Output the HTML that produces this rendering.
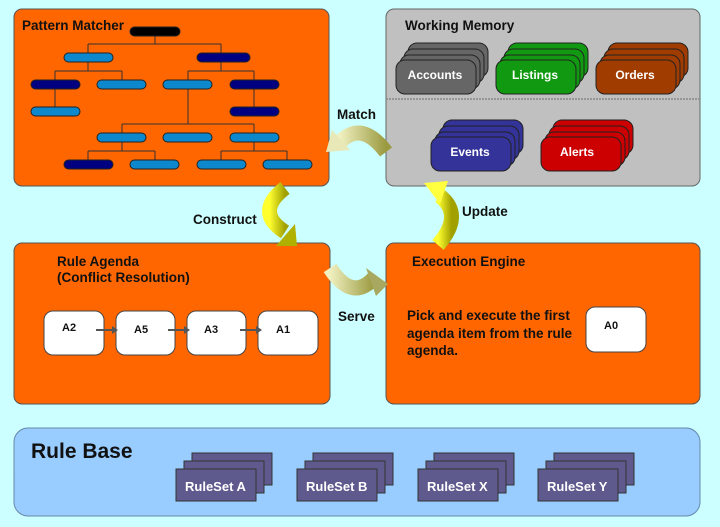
<!DOCTYPE html>
<html><head><style>
body{margin:0;width:720px;height:527px;background:#ccffff;overflow:hidden;font-family:"Liberation Sans",sans-serif;}
svg{position:absolute;left:0;top:0}
</style></head><body>
<svg width="720" height="527" viewBox="0 0 720 527">
<defs>
<linearGradient id="g1" x1="0" y1="0" x2="1" y2="0"><stop offset="0" stop-color="#f0f0c0"/><stop offset="1" stop-color="#9a9a40"/></linearGradient>
<linearGradient id="g2" x1="0" y1="0" x2="1" y2="0"><stop offset="0" stop-color="#ffff30"/><stop offset="1" stop-color="#a0a000"/></linearGradient>
</defs>
<rect x="0" y="0" width="720" height="527" fill="#ccffff"/>
<rect x="14" y="9" width="315" height="177" rx="8" fill="#ff6600" stroke="#555" stroke-width="1"/>
<rect x="386" y="9" width="314" height="177" rx="8" fill="#c0c0c0" stroke="#666" stroke-width="1"/>
<line x1="386" y1="99" x2="700" y2="99" stroke="#888" stroke-width="1.5" stroke-dasharray="2,1"/>
<rect x="14" y="243" width="316" height="161" rx="8" fill="#ff6600" stroke="#555"/>
<rect x="386" y="243" width="314" height="161" rx="8" fill="#ff6600" stroke="#555"/>
<rect x="14" y="428" width="686" height="88" rx="14" fill="#99ccff" stroke="#6688aa"/>
<g stroke="#333" stroke-width="1" fill="none">
<path d="M155 35V44M88 44H221M88 44V53M221 44V53"/>
<path d="M88 62V71M55 71H122M55 71V80M122 71V80"/>
<path d="M221 62V71M188 71H254M188 71V80M254 71V80"/>
<path d="M55 89V107M254 89V107M188 89V124M122 124H254M122 124V133M254 124V133"/>
<path d="M122 142V151M88 151H155M88 151V160M155 151V160M254 142V151M221 151H287M221 151V160M287 151V160"/>
</g>
<g stroke="#222" stroke-width="1">
<rect x="130" y="27" width="50" height="9" rx="4.5" fill="#000"/>
<rect x="64" y="53" width="49" height="9" rx="4.5" fill="#0e88cc"/>
<rect x="197" y="53" width="53" height="9" rx="4.5" fill="#000080"/>
<rect x="31" y="80" width="49" height="9" rx="4.5" fill="#000080"/>
<rect x="97" y="80" width="49" height="9" rx="4.5" fill="#0e88cc"/>
<rect x="163" y="80" width="49" height="9" rx="4.5" fill="#0e88cc"/>
<rect x="230" y="80" width="49" height="9" rx="4.5" fill="#000080"/>
<rect x="31" y="107" width="49" height="9" rx="4.5" fill="#0e88cc"/>
<rect x="230" y="107" width="49" height="9" rx="4.5" fill="#000080"/>
<rect x="97" y="133" width="49" height="9" rx="4.5" fill="#0e88cc"/>
<rect x="163" y="133" width="49" height="9" rx="4.5" fill="#0e88cc"/>
<rect x="230" y="133" width="49" height="9" rx="4.5" fill="#0e88cc"/>
<rect x="64" y="160" width="49" height="9" rx="4.5" fill="#000080"/>
<rect x="130" y="160" width="49" height="9" rx="4.5" fill="#0e88cc"/>
<rect x="197" y="160" width="49" height="9" rx="4.5" fill="#0e88cc"/>
<rect x="263" y="160" width="49" height="9" rx="4.5" fill="#0e88cc"/>
</g>
<g stroke="#222" stroke-width="1">
<g fill="#666"><rect x="408" y="43" width="80" height="34" rx="9"/><rect x="404" y="49" width="80" height="34" rx="9"/><rect x="400" y="55" width="80" height="34" rx="9"/><rect x="396" y="60" width="80" height="34" rx="9"/></g>
<g fill="#119911"><rect x="508" y="43" width="80" height="34" rx="9"/><rect x="504" y="49" width="80" height="34" rx="9"/><rect x="500" y="55" width="80" height="34" rx="9"/><rect x="496" y="60" width="80" height="34" rx="9"/></g>
<g fill="#a03c00"><rect x="608" y="43" width="80" height="34" rx="9"/><rect x="604" y="49" width="80" height="34" rx="9"/><rect x="600" y="55" width="80" height="34" rx="9"/><rect x="596" y="60" width="80" height="34" rx="9"/></g>
<g fill="#333399"><rect x="443" y="120" width="80" height="34" rx="9"/><rect x="439" y="126" width="80" height="34" rx="9"/><rect x="435" y="132" width="80" height="34" rx="9"/><rect x="431" y="137" width="80" height="34" rx="9"/></g>
<g fill="#cc0000"><rect x="553" y="120" width="80" height="34" rx="9"/><rect x="549" y="126" width="80" height="34" rx="9"/><rect x="545" y="132" width="80" height="34" rx="9"/><rect x="541" y="137" width="80" height="34" rx="9"/></g>
</g>
<g fill="#fff" font-size="12" font-weight="bold" text-anchor="middle">
<text x="435" y="79">Accounts</text><text x="535" y="79">Listings</text><text x="635" y="79">Orders</text>
<text x="470" y="156">Events</text><text x="577" y="156">Alerts</text>
</g>
<g fill="#fff" stroke="#444">
<rect x="44" y="311" width="60" height="44" rx="9"/><rect x="116" y="311" width="59" height="44" rx="9"/>
<rect x="187" y="311" width="59" height="44" rx="9"/><rect x="258" y="311" width="60" height="44" rx="9"/>
<rect x="586" y="307" width="60" height="45" rx="9"/>
</g>
<g stroke="#555" stroke-width="2"><line x1="96" y1="330" x2="113" y2="330"/><line x1="168" y1="330" x2="184" y2="330"/><line x1="240" y1="330" x2="256" y2="330"/></g>
<g fill="#555"><path d="M118 330l-6-4v8z"/><path d="M190 330l-6-4v8z"/><path d="M262 330l-6-4v8z"/></g>
<g font-size="11" font-weight="bold" fill="#111">
<text x="62" y="331">A2</text><text x="134" y="333">A5</text><text x="204" y="333">A3</text><text x="276" y="333">A1</text><text x="604" y="329">A0</text>
</g>
<g fill="#5f5a8e" stroke="#333">
<rect x="192" y="453" width="80" height="32"/><rect x="184" y="461" width="80" height="32"/><rect x="176" y="469" width="80" height="32"/>
<rect x="313" y="453" width="80" height="32"/><rect x="305" y="461" width="80" height="32"/><rect x="297" y="469" width="80" height="32"/>
<rect x="434" y="453" width="80" height="32"/><rect x="426" y="461" width="80" height="32"/><rect x="418" y="469" width="80" height="32"/>
<rect x="554" y="453" width="80" height="32"/><rect x="546" y="461" width="80" height="32"/><rect x="538" y="469" width="80" height="32"/>
</g>
<g fill="#fff" font-size="13" font-weight="bold">
<text x="185" y="491">RuleSet A</text><text x="306" y="491">RuleSet B</text><text x="427" y="491">RuleSet X</text><text x="547" y="491">RuleSet Y</text>
</g>
<path d="M386 152 Q362 120 340 142" stroke="url(#g1)" stroke-width="15" fill="none"/>
<path d="M326 152 L332 130 L350 150 Z" fill="#e8e8b8"/>
<path d="M285 188 Q254 212 285 232" stroke="url(#g2)" stroke-width="15" fill="none"/>
<path d="M276 246 L297 246 L295 224 Z" fill="#b0b000"/>
<path d="M438 245 Q464 215 440 196" stroke="url(#g2)" stroke-width="15" fill="none"/>
<path d="M424 183 L448 181 L440 204 Z" fill="#ffff40"/>
<path d="M330 268 Q352 302 374 278" stroke="url(#g1)" stroke-width="15" fill="none"/>
<path d="M388 284 L366 268 L376 296 Z" fill="#a8a860"/>
<g font-size="13.5" font-weight="bold" fill="#111">
<text x="22" y="30">Pattern Matcher</text>
<text x="405" y="30">Working Memory</text>
<text x="337" y="119">Match</text>
<text x="193" y="224">Construct</text>
<text x="462" y="216">Update</text>
<text x="338" y="321">Serve</text>
<text x="57" y="266">Rule Agenda</text>
<text x="57" y="282">(Conflict Resolution)</text>
<text x="412" y="266">Execution Engine</text>
<text x="407" y="320">Pick and execute the first</text>
<text x="407" y="338">agenda item from the rule</text>
<text x="407" y="355">agenda.</text>
</g>
<text x="31" y="458" font-size="21" font-weight="bold" fill="#111">Rule Base</text>
</svg>
</body></html>
